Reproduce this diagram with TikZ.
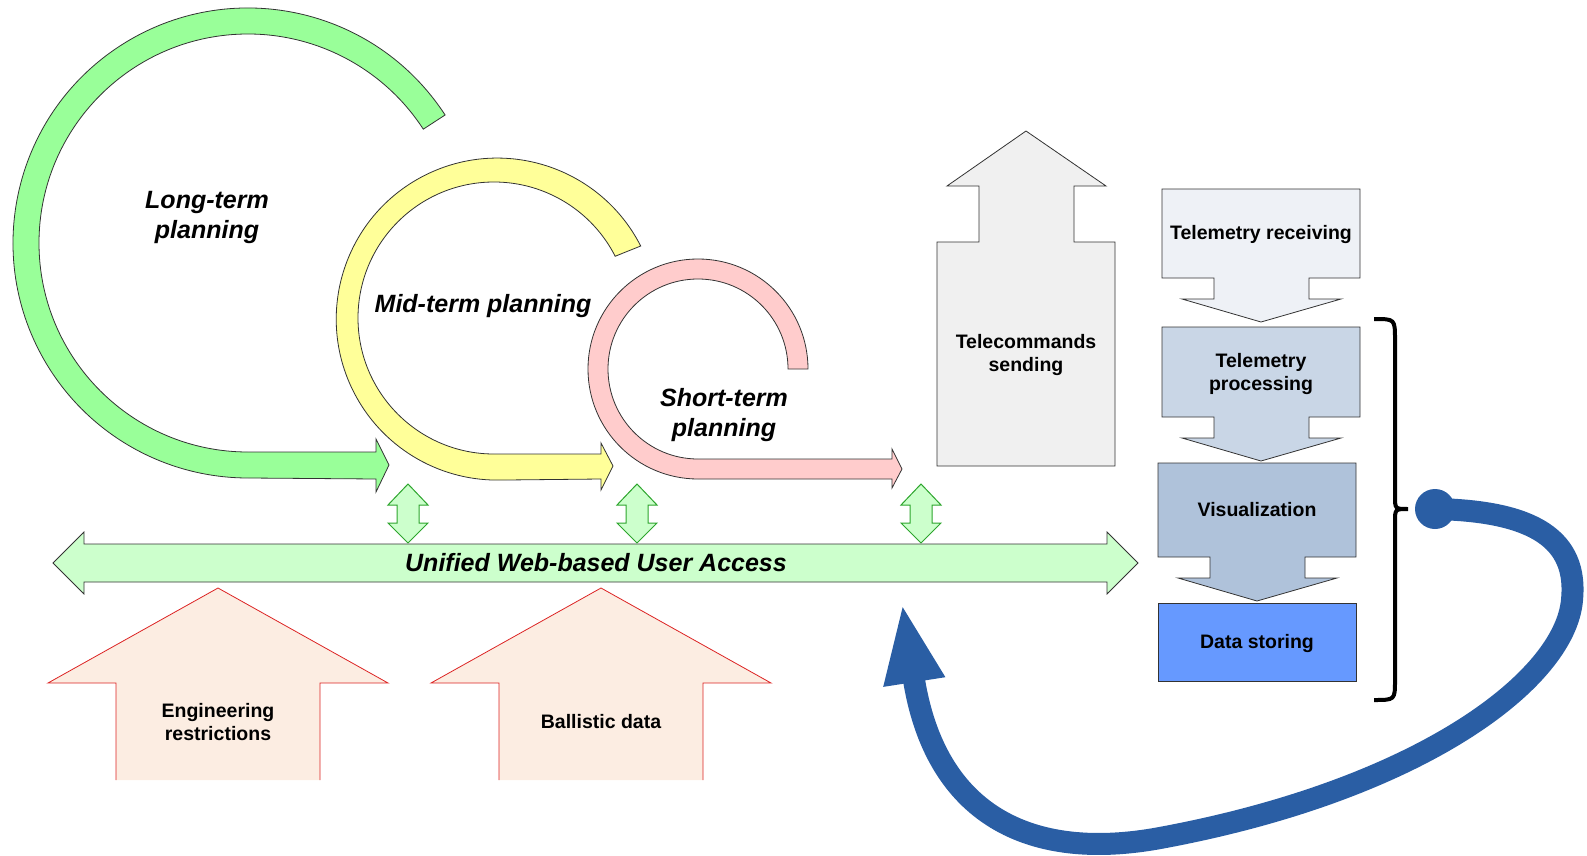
\documentclass[tikz,border=0pt]{standalone}
\usepackage{fontspec}
\setmainfont{Liberation Sans}
\usepackage{xcolor}
\usepackage{tikz}
\usetikzlibrary{arrows.meta}
\definecolor{VerdeLargo}{RGB}{153,255,153}
\definecolor{AmarilloMedio}{RGB}{255,255,153}
\definecolor{RosaCorto}{RGB}{255,204,204}
\definecolor{VerdeAcceso}{RGB}{204,255,204}
\definecolor{BordeAcceso}{RGB}{45,165,45}
\definecolor{FondoEntrada}{RGB}{252,237,226}
\definecolor{BordeEntrada}{RGB}{220,35,35}
\definecolor{GrisMando}{RGB}{240,240,240}
\definecolor{TmRecibe}{RGB}{238,241,246}
\definecolor{TmProcesa}{RGB}{201,214,230}
\definecolor{TmVisual}{RGB}{175,194,218}
\definecolor{TmGuarda}{RGB}{102,153,255}
\definecolor{AzulLazo}{RGB}{42,94,164}

\begin{document}
\begin{tikzpicture}[x=1pt,y=-1pt,>=Latex,
    borde/.style={draw=black!80,line width=0.8pt},
    textocaja/.style={font=\bfseries\fontsize{19.5}{23}\selectfont,align=center},
    textoplan/.style={font=\bfseries\itshape\fontsize{25}{30}\selectfont,align=center}]
  \useasboundingbox (0,0) rectangle (1587,856);
  % planning loops
  \filldraw[borde,fill=VerdeLargo] (445.1,115) arc[start angle=33,end angle=270,radius=235pt]
    -- (376,479) -- (376,492) -- (389,465) -- (376,439) -- (376,452) -- (248,452)
    arc[start angle=270,end angle=33,radius=209pt] -- cycle;
  \filldraw[borde,fill=AmarilloMedio] (640.7,246) arc[start angle=27,end angle=270,radius=161pt]
    -- (601,479) -- (601,490) -- (613,466) -- (601,443) -- (601,454) -- (494,454)
    arc[start angle=270,end angle=27,radius=136pt] -- cycle;
  \filldraw[borde,fill=RosaCorto] (808,369) arc[start angle=0,end angle=270,radius=110pt]
    -- (892,479) -- (892,488) -- (902,469) -- (892,449) -- (892,459) -- (698,459)
    arc[start angle=270,end angle=0,radius=90pt] -- cycle;
  \node[textoplan] (largo) at (207,217) {Long-term\\planning};
  \node[textoplan] (medio) at (483,306) {Mid-term planning};
  \node[textoplan] (corto) at (724,415) {Short-term\\planning};
  % user access
  \filldraw[borde,fill=VerdeAcceso] (53,563) -- (84,532) -- (84,544) -- (1107,544) -- (1107,532)
    -- (1138,563) -- (1107,594) -- (1107,582) -- (84,582) -- (84,594) -- cycle;
  \foreach \x in {408,637,921}
    \filldraw[draw=BordeAcceso,line width=1pt,fill=VerdeAcceso] (\x,484) -- (\x+20,505) -- (\x+11,505)
      -- (\x+11,523) -- (\x+20,523) -- (\x,543) -- (\x-20,523) -- (\x-11,523) -- (\x-11,505)
      -- (\x-20,505) -- cycle;
  \node[font=\bfseries\itshape\fontsize{25}{30}\selectfont] (acceso) at (596,563) {Unified Web-based User Access};
  % inputs
  \foreach \x/\nombre/\texto in {218/ingenieria/{Engineering\\restrictions},601/balistica/{Ballistic data}} {
    \filldraw[draw=BordeEntrada,line width=0.8pt,fill=FondoEntrada] (\x-102,780) -- (\x-102,683)
      -- (\x-170,683) -- (\x,588) -- (\x+170,683) -- (\x+102,683) -- (\x+102,780);
    \node[textocaja] (\nombre) at (\x,722) {\texto};
  }
  % telecommands
  \filldraw[borde,fill=GrisMando] (1026,131) -- (1106,186) -- (1074,186) -- (1074,242) -- (1115,242)
    -- (1115,466) -- (937,466) -- (937,242) -- (979,242) -- (979,186) -- (947,186) -- cycle;
  \node[textocaja] (mando) at (1026,355) {Telecommands\\sending};
  % telemetry chain
  \foreach \x/\y/\h/\c in {1162/189/89/TmRecibe,1162/327/90/TmProcesa,1158/463/94/TmVisual}
    \filldraw[borde,fill=\c] (\x,\y) -- (\x+198,\y) -- (\x+198,\y+\h) -- (\x+147,\y+\h)
      -- (\x+147,\y+\h+21) -- (\x+179,\y+\h+21) -- (\x+99,\y+\h+44) -- (\x+20,\y+\h+21)
      -- (\x+52,\y+\h+21) -- (\x+52,\y+\h) -- (\x,\y+\h) -- cycle;
  \filldraw[borde,fill=TmGuarda] (1158,603) rectangle (1356,681);
  \node[textocaja] (recibe) at (1261,235) {Telemetry receiving};
  \node[textocaja] (procesa) at (1261,374) {Telemetry\\processing};
  \node[textocaja] (visual) at (1257,510) {Visualization};
  \node[textocaja] (guarda) at (1257,643) {Data storing};
  % brace
  \draw[line width=4pt] (1374,319) .. controls (1395,319) .. (1395,340) -- (1395,496)
    .. controls (1395,509) .. (1408,509) .. controls (1395,509) .. (1395,522) -- (1395,680)
    .. controls (1395,700) .. (1374,700);
  % feedback loop
  \coordinate (inicio) at (1435,509);
  \coordinate (punta) at (902,603);
  \fill[AzulLazo] (inicio) circle[radius=20pt];
  \draw[AzulLazo,line width=22pt,-{Triangle[length=80pt,width=56pt]}] (inicio)
    .. controls (1535,511) and (1578,540) .. (1572,600)
    .. controls (1565,680) and (1420,790) .. (1160,838)
    .. controls (1030,862) and (935,815) .. (punta);
\end{tikzpicture}
\end{document}
